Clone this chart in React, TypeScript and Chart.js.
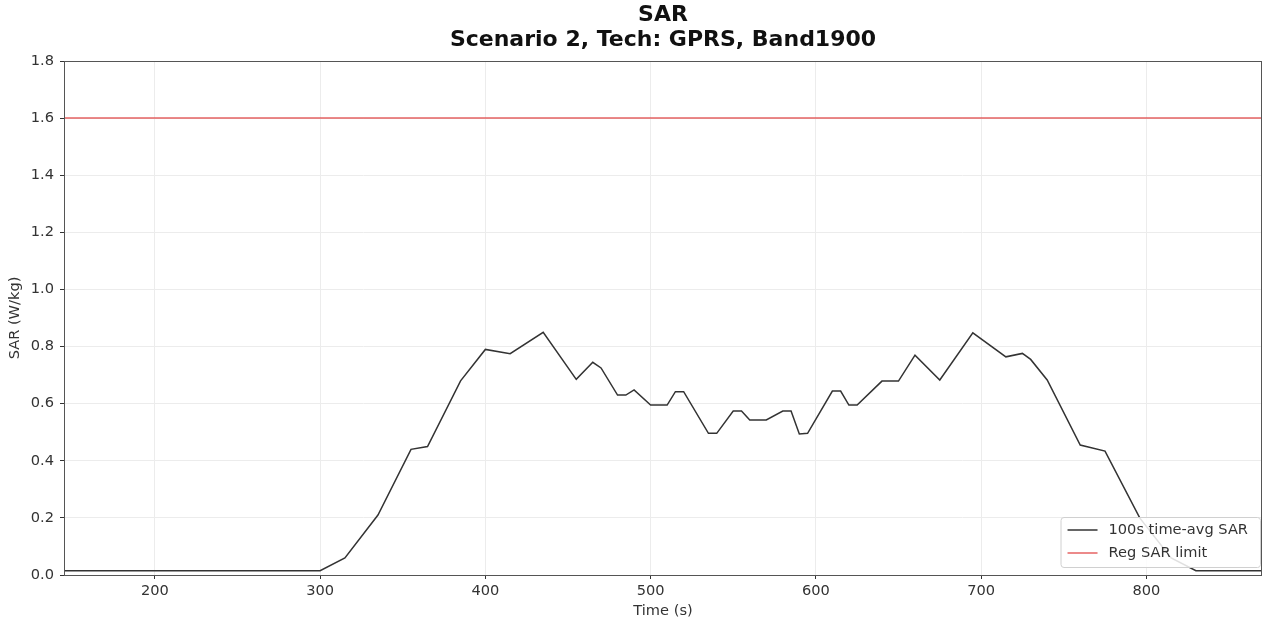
import { useEffect, useRef } from "react";
import { Chart, registerables } from "chart.js";

Chart.register(...registerables);

const titleLines = ["SAR", "Scenario 2, Tech: GPRS, Band1900"];
const xLabel = "Time (s)";
const yLabel = "SAR (W/kg)";
const seriesNames = ["100s time-avg SAR", "Reg SAR limit"];

const timeS = [145, 300, 315, 335, 355, 365, 385, 400, 415, 435, 455, 465, 470, 480, 485, 490, 500, 510, 515, 520, 535, 540, 550, 555, 560, 570, 580, 585, 590, 595, 610, 615, 620, 625, 640, 650, 660, 675, 695, 715, 725, 730, 740, 760, 775, 796, 815, 830, 870];
const sarAvg = [0.015, 0.015, 0.06, 0.21, 0.44, 0.45, 0.68, 0.79, 0.775, 0.85, 0.685, 0.745, 0.725, 0.63, 0.63, 0.648, 0.595, 0.595, 0.642, 0.642, 0.496, 0.496, 0.574, 0.574, 0.543, 0.543, 0.574, 0.574, 0.494, 0.496, 0.644, 0.644, 0.595, 0.595, 0.679, 0.679, 0.77, 0.683, 0.848, 0.764, 0.776, 0.755, 0.683, 0.455, 0.434, 0.2, 0.06, 0.015, 0.015];
const limitTime = [145, 870];
const limitSar = [1.6, 1.6];

const xTicks = [200, 300, 400, 500, 600, 700, 800];
const xMin = 145;
const xMax = 870;
const yMin = 0;
const yMax = 1.8;
const yStep = 0.2;

const FONT = "'DejaVu Sans', sans-serif";
const FS = 14.6;
const LINE_COLOR = "#333333";
const LIMIT_COLOR = "rgba(225,70,70,0.85)";

const framePlugin = {
  id: "frame",
  afterDatasetsDraw(chart: any) {
    const { ctx, chartArea: a } = chart;
    ctx.save();
    ctx.strokeStyle = "#555";
    ctx.lineWidth = 1;
    ctx.strokeRect(Math.round(a.left) + 0.5, Math.round(a.top) + 0.5, Math.round(a.right - a.left) - 1, Math.round(a.bottom - a.top));
    ctx.restore();
  },
};

const titlePlugin = {
  id: "centeredTitle",
  afterDraw(chart: any) {
    const { ctx, chartArea: a } = chart;
    const cx = (a.left + a.right) / 2;
    ctx.save();
    ctx.fillStyle = "#111";
    ctx.font = `bold 22px ${FONT}`;
    ctx.textAlign = "center";
    ctx.textBaseline = "middle";
    ctx.fillText(titleLines[0], cx, 15);
    ctx.fillText(titleLines[1], cx, 40);
    ctx.restore();
  },
};

const legendPlugin = {
  id: "innerLegend",
  afterDraw(chart: any) {
    const { ctx, chartArea: a } = chart;
    const ds = chart.data.datasets;
    ctx.save();
    ctx.font = `${FS}px ${FONT}`;
    let tw = 0;
    ds.forEach((d: any) => (tw = Math.max(tw, ctx.measureText(d.label).width)));
    const w = tw + 60;
    const h = 50;
    const right = a.right - 2;
    const bottom = a.bottom - 8;
    const left = right - w;
    const top = bottom - h;
    ctx.fillStyle = "rgba(255,255,255,0.85)";
    ctx.strokeStyle = "#d0d0d0";
    ctx.lineWidth = 1;
    ctx.beginPath();
    (ctx as any).roundRect(left + 0.5, top + 0.5, w, h, 3);
    ctx.fill();
    ctx.stroke();
    ds.forEach((d: any, i: number) => {
      const y = top + 13 + i * 23;
      ctx.strokeStyle = d.borderColor;
      ctx.lineWidth = 1.5;
      ctx.beginPath();
      ctx.moveTo(left + 7, y);
      ctx.lineTo(left + 37, y);
      ctx.stroke();
      ctx.fillStyle = "#333";
      ctx.textAlign = "left";
      ctx.textBaseline = "middle";
      ctx.fillText(d.label, left + 48, y);
    });
    ctx.restore();
  },
};

export default function App() {
  const ref = useRef<HTMLCanvasElement | null>(null);
  useEffect(() => {
    if (!ref.current) return;
    const chart = new Chart(ref.current, {
      type: "line",
      data: {
        datasets: [
          {
            label: seriesNames[0],
            data: timeS.map((t, i) => ({ x: t, y: sarAvg[i] })),
            borderColor: LINE_COLOR,
            borderWidth: 1.5,
            pointRadius: 0,
            tension: 0,
          },
          {
            label: seriesNames[1],
            data: limitTime.map((t, i) => ({ x: t, y: limitSar[i] })),
            borderColor: LIMIT_COLOR,
            borderWidth: 1.5,
            pointRadius: 0,
            tension: 0,
          },
        ],
      },
      plugins: [framePlugin, titlePlugin, legendPlugin],
      options: {
        responsive: false,
        animation: false,
        layout: { padding: { top: 61, right: 1, left: 0, bottom: 0 } },
        plugins: { legend: { display: false }, title: { display: false }, tooltip: { enabled: false } },
        scales: {
          x: {
            type: "linear",
            min: xMin,
            max: xMax,
            afterBuildTicks: (s: any) => {
              s.ticks = xTicks.map((v) => ({ value: v }));
            },
            afterFit: (s: any) => {
              s.height = 51;
            },
            grid: { color: "#ececec", tickColor: "#333", tickLength: 4, lineWidth: 1 },
            border: { display: false },
            ticks: { color: "#333", font: { family: FONT, size: FS }, padding: 3, maxRotation: 0, callback: (v: any) => String(v) },
            title: { display: true, text: xLabel, color: "#333", font: { family: FONT, size: FS }, padding: { top: 0, bottom: 6 } },
          },
          y: {
            type: "linear",
            min: yMin,
            max: yMax,
            ticks: { stepSize: yStep, color: "#333", font: { family: FONT, size: FS }, padding: 6, callback: (v: any) => Number(v).toFixed(1) },
            afterFit: (s: any) => {
              s.width = 64;
            },
            grid: { color: "#ececec", tickColor: "#333", tickLength: 4, lineWidth: 1 },
            border: { display: false },
            title: { display: true, text: yLabel, color: "#333", font: { family: FONT, size: FS }, padding: { top: 6, bottom: 0 } },
          },
        },
      },
    });
    return () => chart.destroy();
  }, []);
  return (
    <div style={{ position: "fixed", left: 0, top: 0, width: 1263, height: 626, background: "#fff" }}>
      <canvas ref={ref} width={1263} height={626} />
    </div>
  );
}
